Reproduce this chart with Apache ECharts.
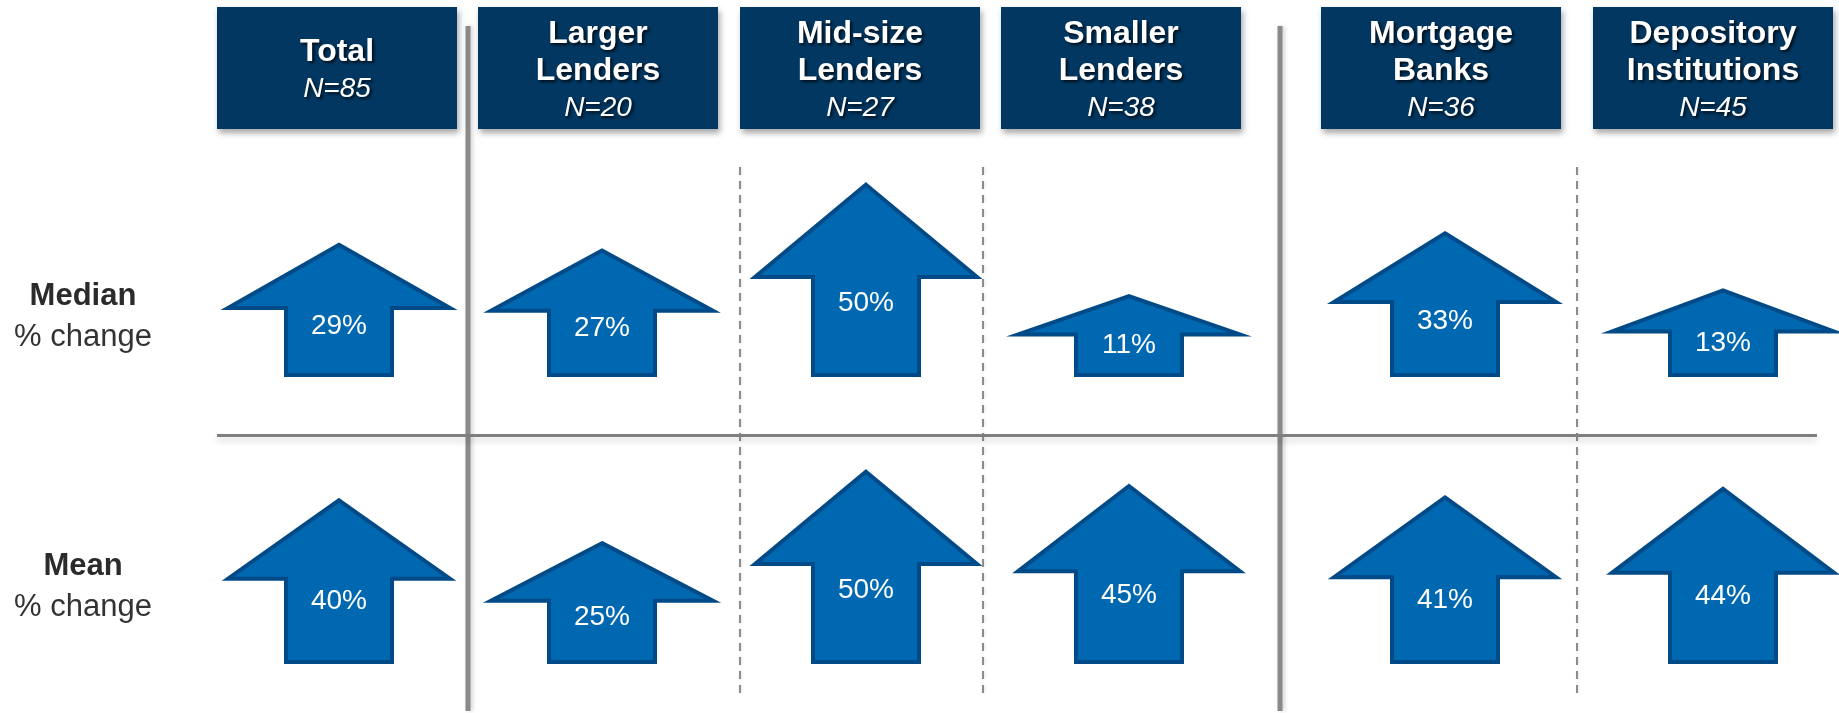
<!DOCTYPE html>
<html>
<head>
<meta charset="utf-8">
<title>Change by lender group</title>
<style>
  html, body { margin: 0; padding: 0; background: #ffffff; }
  #chart { width: 1839px; height: 713px; }
</style>
<script src="https://cdn.jsdelivr.net/npm/echarts@6/dist/echarts.min.js"></script>
</head>
<body>
<div id="chart"></div>
<script>
// ---- data ----
const groups = ['Total', 'Larger Lenders', 'Mid-size Lenders', 'Smaller Lenders', 'Mortgage Banks', 'Depository Institutions'];
const sampleSizes = [85, 20, 27, 38, 36, 45];
const medianChange = [29, 27, 50, 11, 33, 13];
const meanChange = [40, 25, 50, 45, 41, 44];
const rowTitles = ['Median', 'Mean'];
const rowSubtitle = '% change';

// ---- layout ----
const FONT = '"Liberation Sans", Arial, Helvetica, sans-serif';
const colCenters = [339, 602, 866, 1129, 1445, 1727];
const boxLefts = [217, 478, 740, 1001, 1321, 1593];
const BOX_W = 240, BOX_TOP = 7, BOX_H = 122;
const rowBottoms = [377, 664];
const ROW_H = 200;
const Y_MIN = -18, Y_MAX = 52;       // arrows start from a short stub below zero
const HEAD_W = 222, SHAFT_W = 106, HEAD_FRAC = 0.485, LABEL_FRAC = 0.38;

const rows = [medianChange, meanChange];

function renderArrow(params, api) {
  const v = api.value(1);
  const tip = api.coord([api.value(0), v]);
  const base = api.coord([api.value(0), Y_MIN]);
  const cx = tip[0];
  const top = tip[1] + 2;
  const bottom = base[1] - 2;
  const h = bottom - top;
  const shoulder = top + h * HEAD_FRAC;
  const points = [
    [cx, top],
    [cx + HEAD_W / 2, shoulder],
    [cx + SHAFT_W / 2, shoulder],
    [cx + SHAFT_W / 2, bottom],
    [cx - SHAFT_W / 2, bottom],
    [cx - SHAFT_W / 2, shoulder],
    [cx - HEAD_W / 2, shoulder]
  ];
  return {
    type: 'group',
    children: [
      {
        type: 'polygon',
        shape: { points: points },
        style: { fill: '#0067b1', stroke: '#004a87', lineWidth: 4, lineJoin: 'miter' }
      },
      {
        type: 'text',
        x: cx,
        y: base[1] - (base[1] - tip[1]) * LABEL_FRAC,
        style: {
          text: v + '%',
          fill: '#ffffff',
          font: '28px ' + FONT,
          align: 'center',
          verticalAlign: 'middle',
          textAlign: 'center',
          textVerticalAlign: 'middle'
        }
      }
    ]
  };
}

const grid = [], xAxis = [], yAxis = [], series = [];
rows.forEach(function (values, r) {
  groups.forEach(function (name, c) {
    const idx = grid.length;
    grid.push({
      left: colCenters[c] - BOX_W / 2,
      top: rowBottoms[r] - ROW_H,
      width: BOX_W,
      height: ROW_H
    });
    xAxis.push({ type: 'category', gridIndex: idx, data: [name], show: false });
    yAxis.push({ type: 'value', gridIndex: idx, min: Y_MIN, max: Y_MAX, show: false });
    series.push({
      type: 'custom',
      name: rowTitles[r] + ' ' + name,
      xAxisIndex: idx,
      yAxisIndex: idx,
      data: [[0, values[c]]],
      renderItem: renderArrow,
      silent: true,
      z: 5
    });
  });
});

// ---- decorations: headers, separators, row titles ----
const graphics = [];

// separators between the size groups and the lender-type groups
[468, 1280].forEach(function (x) {
  graphics.push({
    type: 'line', z: 1,
    shape: { x1: x, y1: 26, x2: x, y2: 711 },
    style: { stroke: '#8a8a8a', lineWidth: 5, shadowBlur: 4, shadowColor: 'rgba(0,0,0,0.18)', shadowOffsetX: 2 }
  });
});
[740, 983, 1577].forEach(function (x) {
  graphics.push({
    type: 'line', z: 1,
    shape: { x1: x, y1: 167, x2: x, y2: 693 },
    style: { stroke: '#8c8c8c', lineWidth: 2, lineDash: [8, 6], shadowBlur: 3, shadowColor: 'rgba(0,0,0,0.12)', shadowOffsetX: 1 }
  });
});
graphics.push({
  type: 'line', z: 1,
  shape: { x1: 217, y1: 435.5, x2: 1817, y2: 435.5 },
  style: { stroke: '#7f7f7f', lineWidth: 3, shadowBlur: 6, shadowColor: 'rgba(0,0,0,0.18)', shadowOffsetY: 4 }
});

groups.forEach(function (name, c) {
  graphics.push({
    type: 'rect', z: 2,
    shape: { x: boxLefts[c], y: BOX_TOP, width: BOX_W, height: BOX_H },
    style: { fill: '#013761', shadowBlur: 6, shadowOffsetX: 2, shadowOffsetY: 4, shadowColor: 'rgba(0,0,0,0.35)' }
  });
  const lines = name.split(' ').map(function (w) { return '{b|' + w + '}'; });
  lines.push('{i|N=' + sampleSizes[c] + '}');
  const shadow = { textShadowColor: 'rgba(0,0,0,0.75)', textShadowBlur: 3, textShadowOffsetX: 2, textShadowOffsetY: 2 };
  graphics.push({
    type: 'text', z: 3,
    x: boxLefts[c] + BOX_W / 2,
    y: BOX_TOP + BOX_H / 2 + 3,
    style: {
      text: lines.join('\n'),
      align: 'center',
      verticalAlign: 'middle',
      fill: '#ffffff',
      rich: {
        b: Object.assign({ fontFamily: FONT, fontWeight: 'bold', fontSize: 32, lineHeight: 37, fill: '#ffffff', align: 'center' }, shadow),
        i: Object.assign({ fontFamily: FONT, fontStyle: 'italic', fontSize: 28, lineHeight: 37, fill: '#ffffff', align: 'center' }, shadow)
      }
    }
  });
});

rowTitles.forEach(function (title, r) {
  graphics.push({
    type: 'text', z: 3,
    x: 83,
    y: [317, 587][r],
    style: {
      text: '{b|' + title + '}\n{r|' + rowSubtitle + '}',
      align: 'center',
      verticalAlign: 'middle',
      rich: {
        b: { fontFamily: FONT, fontWeight: 'bold', fontSize: 31, lineHeight: 41, fill: '#2b2b2b', align: 'center' },
        r: { fontFamily: FONT, fontSize: 31, lineHeight: 41, fill: '#333333', align: 'center' }
      }
    }
  });
});

const chart = echarts.init(document.getElementById('chart'), null, { renderer: 'canvas' });
chart.setOption({
  backgroundColor: '#ffffff',
  animation: false,
  grid: grid,
  xAxis: xAxis,
  yAxis: yAxis,
  series: series,
  graphic: { elements: graphics }
});
</script>
</body>
</html>
